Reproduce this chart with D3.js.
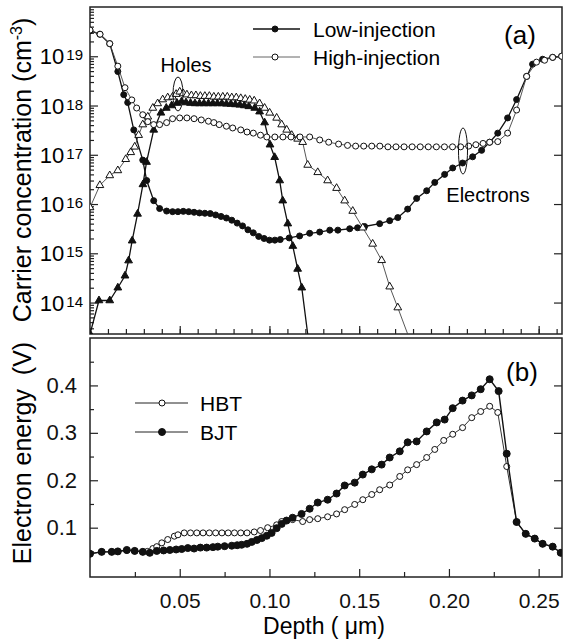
<!DOCTYPE html>
<html>
<head>
<meta charset="utf-8">
<script src="https://cdn.jsdelivr.net/npm/d3@7"></script>
<style>
  body { margin: 0; background: #fff; }
  svg { font-family: 'Liberation Sans', Arial, sans-serif; }
  .axis path.domain { display: none; }
  .axis line { stroke: #222; stroke-width: 1.2; }
</style>
</head>
<body>
<div id="chart"></div>
<script>
// depth in µm, carrier concentration in cm^-3
const electronsLow = [
  [0, 3.3e19], [0.0055, 2.8e19], [0.011, 1.8e19], [0.0155, 4.9e18], [0.0188, 1.66e18], [0.021, 1.15e18],
  [0.0244, 3.2e17], [0.0294, 7.8e16], [0.0316, 3.0e16], [0.0355, 1.17e16], [0.0388, 8.1e15], [0.0427, 7.2e15],
  [0.046, 7.0e15], [0.049, 7.0e15], [0.052, 7.1e15], [0.055, 7.0e15], [0.058, 6.8e15], [0.061, 6.6e15],
  [0.064, 6.5e15], [0.067, 6.4e15], [0.070, 6.0e15], [0.073, 5.6e15], [0.076, 5.2e15], [0.079, 4.7e15],
  [0.082, 4.1e15], [0.085, 3.6e15], [0.088, 3.0e15], [0.091, 2.6e15], [0.094, 2.2e15], [0.097, 2.0e15],
  [0.100, 1.85e15], [0.103, 1.85e15], [0.106, 1.9e15], [0.111, 2.05e15], [0.1168, 2.25e15], [0.1224, 2.55e15],
  [0.128, 2.7e15], [0.1336, 2.95e15], [0.1381, 2.95e15], [0.1447, 3.15e15], [0.1491, 3.3e15], [0.153, 3.5e15],
  [0.1614, 4.0e15], [0.167, 4.6e15], [0.1715, 5.3e15], [0.177, 7.9e15], [0.182, 1.3e16], [0.1876, 1.86e16],
  [0.1921, 2.75e16], [0.1976, 4.0e16], [0.2021, 5.4e16], [0.2076, 6.8e16], [0.2132, 9.1e16], [0.2182, 1.23e17],
  [0.2227, 1.8e17], [0.2272, 2.75e17], [0.2327, 5.6e17], [0.2377, 1.32e18], [0.2433, 3.9e18], [0.2466, 6.9e18],
  [0.2522, 8.7e18], [0.2578, 9.5e18], [0.2628, 1.0e19]
]

const electronsHigh = [
  [0, 3.4e19], [0.0056, 2.8e19], [0.011, 1.8e19], [0.0155, 6.3e18], [0.0195, 2.3e18], [0.0233, 1.3e18],
  [0.026, 8.9e17], [0.0294, 6.5e17], [0.0322, 4.7e17], [0.0355, 4.1e17], [0.0388, 4.1e17], [0.0427, 4.5e17],
  [0.046, 5.4e17], [0.050, 5.6e17], [0.054, 5.6e17], [0.058, 5.4e17], [0.062, 5.1e17], [0.066, 4.8e17],
  [0.069, 4.5e17], [0.072, 4.1e17], [0.076, 3.8e17], [0.0795, 3.5e17], [0.084, 3.2e17], [0.0875, 2.9e17],
  [0.091, 2.75e17], [0.095, 2.5e17], [0.0985, 2.3e17], [0.103, 2.3e17], [0.1075, 2.3e17], [0.112, 2.3e17],
  [0.117, 2.3e17], [0.1224, 2.3e17], [0.128, 2.0e17], [0.133, 1.8e17], [0.1385, 1.65e17], [0.1435, 1.55e17],
  [0.148, 1.5e17], [0.1525, 1.5e17], [0.157, 1.5e17], [0.1615, 1.5e17], [0.166, 1.45e17], [0.1705, 1.45e17],
  [0.175, 1.45e17], [0.1795, 1.45e17], [0.184, 1.45e17], [0.1885, 1.45e17], [0.193, 1.45e17], [0.1975, 1.45e17],
  [0.202, 1.45e17], [0.2065, 1.45e17], [0.211, 1.5e17], [0.215, 1.6e17], [0.219, 1.7e17], [0.2227, 1.8e17],
  [0.2272, 1.85e17], [0.2327, 2.75e17], [0.2377, 8.1e17], [0.2433, 3.9e18], [0.2488, 7.6e18], [0.2533, 8.3e18],
  [0.2578, 9.5e18], [0.2628, 1.0e19]
]

const holesLow = [
  [0, 2.3e13], [0.005, 1.1e14], [0.011, 1.1e14], [0.0155, 2.0e14], [0.0195, 3.5e14], [0.0215, 7.1e14],
  [0.0235, 1.8e15], [0.0265, 6.3e15], [0.0295, 2.5e16], [0.0315, 7.1e16], [0.0355, 3.2e17], [0.0395, 7.1e17],
  [0.0425, 8.9e17], [0.0455, 1.0e18], [0.0485, 1.12e18], [0.051, 1.2e18], [0.0535, 1.15e18], [0.056, 1.12e18],
  [0.0585, 1.1e18], [0.061, 1.1e18], [0.0635, 1.1e18], [0.066, 1.1e18], [0.0685, 1.1e18], [0.071, 1.1e18],
  [0.0735, 1.1e18], [0.076, 1.08e18], [0.0785, 1.07e18], [0.081, 1.05e18], [0.0835, 1.03e18], [0.086, 1.0e18],
  [0.0885, 9.6e17], [0.0918, 8.9e17], [0.0945, 7.5e17], [0.0973, 4.5e17], [0.1003, 1.6e17], [0.1029, 8.9e16],
  [0.1057, 3.0e16], [0.1074, 1.17e16], [0.1102, 4.0e15], [0.113, 1.4e15], [0.1157, 4.8e14], [0.118, 2.0e14],
  [0.1213, 2.3e13]
]

const holesHigh = [
  [0, 8.5e15], [0.0055, 2.4e16], [0.011, 3.8e16], [0.0155, 4.8e16], [0.0199, 8.1e16], [0.0227, 1.12e17],
  [0.0249, 1.45e17], [0.0271, 2.5e17], [0.0294, 4.1e17], [0.0322, 5.9e17], [0.035, 8.9e17], [0.0377, 1.1e18],
  [0.0405, 1.32e18], [0.0433, 1.45e18], [0.046, 1.5e18], [0.048, 1.7e18], [0.050, 1.9e18], [0.052, 1.75e18],
  [0.054, 1.66e18], [0.0565, 1.6e18], [0.059, 1.6e18], [0.0615, 1.55e18], [0.064, 1.55e18], [0.0665, 1.55e18],
  [0.069, 1.5e18], [0.0715, 1.5e18], [0.074, 1.5e18], [0.0765, 1.5e18], [0.079, 1.45e18], [0.0815, 1.45e18],
  [0.084, 1.4e18], [0.0865, 1.35e18], [0.089, 1.3e18], [0.0915, 1.25e18], [0.0945, 1.1e18], [0.0973, 8.9e17],
  [0.1001, 7.1e17], [0.104, 5.6e17], [0.1068, 4.1e17], [0.1096, 3.2e17], [0.1124, 2.5e17], [0.1157, 2.1e17],
  [0.1185, 1.8e17], [0.1213, 6.2e16], [0.1269, 4.4e16], [0.1324, 3.0e16], [0.1374, 2.1e16], [0.1419, 1.17e16],
  [0.1464, 7.2e15], [0.152, 3.3e15], [0.1575, 1.55e15], [0.1625, 7.2e14], [0.167, 2.1e14], [0.1715, 7.9e13],
  [0.177, 2.3e13]
]

// depth in µm, electron energy in V
const energyHBT = [
  [0, 0.045], [0.0065, 0.049], [0.0121, 0.049], [0.0155, 0.050], [0.0205, 0.052], [0.0249, 0.051],
  [0.0294, 0.049], [0.032, 0.050], [0.035, 0.056], [0.0372, 0.060], [0.040, 0.068], [0.0433, 0.075],
  [0.047, 0.082], [0.049, 0.085], [0.0525, 0.089], [0.056, 0.089], [0.0595, 0.089], [0.063, 0.089],
  [0.0665, 0.089], [0.070, 0.089], [0.0735, 0.089], [0.077, 0.089], [0.0805, 0.089], [0.084, 0.089],
  [0.0875, 0.089], [0.0915, 0.091], [0.095, 0.094], [0.099, 0.100], [0.104, 0.106], [0.1068, 0.113],
  [0.1129, 0.117], [0.1185, 0.113], [0.1224, 0.117], [0.1269, 0.119], [0.1324, 0.123], [0.1374, 0.129],
  [0.1419, 0.138], [0.1475, 0.149], [0.152, 0.159], [0.157, 0.170], [0.1614, 0.180], [0.167, 0.190],
  [0.1726, 0.208], [0.177, 0.222], [0.182, 0.233], [0.1876, 0.248], [0.1921, 0.265], [0.1971, 0.284],
  [0.2021, 0.297], [0.2076, 0.311], [0.2127, 0.332], [0.2177, 0.345], [0.2227, 0.356], [0.2272, 0.343],
  [0.2322, 0.229], [0.2377, 0.112], [0.2428, 0.087], [0.2478, 0.077], [0.2522, 0.066], [0.2578, 0.060],
  [0.2623, 0.047]
]

const energyBJT = [
  [0, 0.045], [0.0065, 0.049], [0.0121, 0.049], [0.0155, 0.050], [0.0205, 0.053], [0.0249, 0.051],
  [0.0294, 0.049], [0.0333, 0.047], [0.0372, 0.051], [0.041, 0.052], [0.0445, 0.053], [0.048, 0.054],
  [0.0511, 0.055], [0.0545, 0.057], [0.058, 0.056], [0.0615, 0.058], [0.065, 0.058], [0.0685, 0.059],
  [0.0712, 0.060], [0.075, 0.061], [0.079, 0.062], [0.082, 0.063], [0.0845, 0.064], [0.0875, 0.066],
  [0.0901, 0.070], [0.093, 0.074], [0.0957, 0.078], [0.0985, 0.083], [0.1012, 0.089], [0.104, 0.099],
  [0.1068, 0.108], [0.1095, 0.115], [0.1129, 0.121], [0.1179, 0.129], [0.1224, 0.140], [0.1269, 0.153],
  [0.1324, 0.159], [0.1374, 0.172], [0.1419, 0.189], [0.1475, 0.195], [0.152, 0.212], [0.157, 0.223],
  [0.1625, 0.233], [0.167, 0.248], [0.1726, 0.261], [0.177, 0.280], [0.182, 0.282], [0.1876, 0.303],
  [0.1932, 0.322], [0.1976, 0.328], [0.2021, 0.352], [0.2076, 0.368], [0.2127, 0.379], [0.2177, 0.392],
  [0.2227, 0.413], [0.2277, 0.388], [0.2322, 0.256], [0.2377, 0.112], [0.2428, 0.087], [0.2478, 0.077],
  [0.2522, 0.066], [0.2578, 0.060], [0.2623, 0.047]
]

const depthTicks = [0.05, 0.10, 0.15, 0.20, 0.25]
const energyTicks = [0.1, 0.2, 0.3, 0.4]
const concTicks = [1e14, 1e15, 1e16, 1e17, 1e18, 1e19]
const concExponents = ['14', '15', '16', '17', '18', '19']

const width = 564
const height = 643
const left = 90
const right = 562
const panelA = { top: 7, bottom: 334 }
const panelB = { top: 338, bottom: 577 }
const font = "'Liberation Sans', Arial, sans-serif"

const svg = d3.select('#chart').append('svg')
  .attr('width', width)
  .attr('height', height)

const x = d3.scaleLinear().domain([0, 0.263]).range([left, right])
const yConc = d3.scaleLog().domain([2.3e13, 1e20]).range([panelA.bottom, panelA.top])
const yEnergy = d3.scaleLinear().domain([-0.004, 0.5]).range([panelB.bottom, panelB.top])

const defs = svg.append('defs')
defs.append('clipPath').attr('id', 'clipA').append('rect')
  .attr('x', left).attr('y', panelA.top).attr('width', right - left).attr('height', panelA.bottom - panelA.top)
defs.append('clipPath').attr('id', 'clipB').append('rect')
  .attr('x', left).attr('y', panelB.top).attr('width', right - left).attr('height', panelB.bottom - panelB.top)

// ---- panel (a) axes ----
const minorConc = []
for (let e = 13; e < 20; e++) {
  for (let k = 2; k <= 9; k++) {
    const v = k * Math.pow(10, e)
    if (v > 2.3e13 && v < 1e20) minorConc.push(v)
  }
}

svg.append('g').attr('class', 'axis')
  .attr('transform', `translate(${left},0)`)
  .call(d3.axisLeft(yConc).tickValues(concTicks).tickSize(-8).tickFormat(''))
svg.append('g').attr('class', 'axis')
  .attr('transform', `translate(${left},0)`)
  .call(d3.axisLeft(yConc).tickValues(minorConc).tickSize(-4).tickFormat(''))
svg.append('g').attr('class', 'axis')
  .attr('transform', `translate(${right},0)`)
  .call(d3.axisRight(yConc).tickValues(concTicks).tickSize(-8).tickFormat(''))
svg.append('g').attr('class', 'axis')
  .attr('transform', `translate(0,${panelA.bottom})`)
  .call(d3.axisBottom(x).tickValues(d3.range(0.01, 0.262, 0.01)).tickSize(-5).tickFormat(''))
svg.append('g').attr('class', 'axis')
  .attr('transform', `translate(0,${panelA.bottom})`)
  .call(d3.axisBottom(x).tickValues(depthTicks).tickSize(-8).tickFormat(''))

const concLabels = svg.append('g')
concTicks.forEach((v, i) => {
  const t = concLabels.append('text')
    .attr('x', 83)
    .attr('y', yConc(v) + 8)
    .attr('text-anchor', 'end')
    .attr('font-size', 22)
  t.append('tspan').text('10')
  t.append('tspan').attr('font-size', 15).attr('dx', 2).attr('dy', -4).text(concExponents[i])
})

svg.append('rect')
  .attr('x', left).attr('y', panelA.top)
  .attr('width', right - left).attr('height', panelA.bottom - panelA.top)
  .attr('fill', 'none').attr('stroke', '#222').attr('stroke-width', 1.5)

const yTitleA = svg.append('text')
  .attr('transform', `translate(31,170) rotate(-90)`)
  .attr('text-anchor', 'middle')
  .attr('font-size', 25)
yTitleA.append('tspan').text('Carrier concentration (cm')
yTitleA.append('tspan').attr('font-size', 16).attr('dy', -9).text('-3')
yTitleA.append('tspan').attr('dy', 9).text(')')

// ---- panel (a) curves ----
const lineA = d3.line().x(d => x(d[0])).y(d => yConc(d[1]))
const plotA = svg.append('g').attr('clip-path', 'url(#clipA)')
const triangle = d3.symbol().type(d3.symbolTriangle).size(26)
const floorA = yConc.domain()[0]

function drawSeriesA (data, opts) {
  plotA.append('path')
    .datum(data)
    .attr('d', lineA)
    .attr('fill', 'none')
    .attr('stroke', opts.stroke)
    .attr('stroke-width', opts.lw)
  const pts = data.filter(d => d[1] > floorA || d[0] === 0)
  if (opts.shape === 'circle') {
    plotA.append('g').selectAll('circle')
      .data(pts).enter().append('circle')
      .attr('cx', d => x(d[0]))
      .attr('cy', d => yConc(d[1]))
      .attr('r', 3)
      .attr('fill', opts.filled ? '#111' : '#fff')
      .attr('stroke', '#111')
      .attr('stroke-width', 1)
  } else {
    plotA.append('g').selectAll('path')
      .data(pts).enter().append('path')
      .attr('d', triangle)
      .attr('transform', d => `translate(${x(d[0])},${yConc(d[1])})`)
      .attr('fill', opts.filled ? '#111' : '#fff')
      .attr('stroke', '#111')
      .attr('stroke-width', 1)
  }
}

drawSeriesA(electronsLow, { shape: 'circle', filled: true, stroke: '#111', lw: 1.3 })
drawSeriesA(holesLow, { shape: 'triangle', filled: true, stroke: '#111', lw: 1.3 })
drawSeriesA(holesHigh, { shape: 'triangle', filled: false, stroke: '#444', lw: 0.9 })
drawSeriesA(electronsHigh, { shape: 'circle', filled: false, stroke: '#444', lw: 0.9 })

// annotations (a)
svg.append('text').attr('x', 186).attr('y', 72).attr('text-anchor', 'middle')
  .attr('font-size', 20).text('Holes')
svg.append('ellipse').attr('cx', 178).attr('cy', 94).attr('rx', 5).attr('ry', 17)
  .attr('fill', 'none').attr('stroke', '#111').attr('stroke-width', 1)
svg.append('text').attr('x', 488).attr('y', 202).attr('text-anchor', 'middle')
  .attr('font-size', 20).text('Electrons')
svg.append('ellipse').attr('cx', 463).attr('cy', 151).attr('rx', 4.5).attr('ry', 23)
  .attr('fill', 'none').attr('stroke', '#111').attr('stroke-width', 1)
svg.append('text').attr('x', 520).attr('y', 44).attr('text-anchor', 'middle')
  .attr('font-size', 26).text('(a)')

// legend (a)
const legendA = [
  { label: 'Low-injection', y: 29, filled: true, stroke: '#111', lw: 1.3 },
  { label: 'High-injection', y: 57, filled: false, stroke: '#555', lw: 0.9 }
]
legendA.forEach(l => {
  svg.append('line').attr('x1', 253).attr('x2', 300).attr('y1', l.y).attr('y2', l.y)
    .attr('stroke', l.stroke).attr('stroke-width', l.lw)
  svg.append('circle').attr('cx', 275).attr('cy', l.y).attr('r', 3)
    .attr('fill', l.filled ? '#111' : '#fff').attr('stroke', '#111')
  svg.append('text').attr('x', 313).attr('y', l.y + 8).attr('font-size', 21).text(l.label)
})

// ---- panel (b) axes ----
svg.append('g').attr('class', 'axis')
  .attr('transform', `translate(${left},0)`)
  .call(d3.axisLeft(yEnergy).tickValues(energyTicks).tickSize(-8).tickPadding(13)
    .tickFormat(d3.format('.1f')))
  .call(g => g.selectAll('text').attr('font-size', 22).attr('fill', '#111').attr('font-family', font))
svg.append('g').attr('class', 'axis')
  .attr('transform', `translate(${left},0)`)
  .call(d3.axisLeft(yEnergy).tickValues([0.05, 0.15, 0.25, 0.35, 0.45]).tickSize(-4).tickFormat(''))
svg.append('g').attr('class', 'axis')
  .attr('transform', `translate(${right},0)`)
  .call(d3.axisRight(yEnergy).tickValues(energyTicks).tickSize(-8).tickFormat(''))
svg.append('g').attr('class', 'axis')
  .attr('transform', `translate(0,${panelB.bottom})`)
  .call(d3.axisBottom(x).tickValues(depthTicks).tickSize(-8).tickPadding(16)
    .tickFormat(d3.format('.2f')))
  .call(g => g.selectAll('text').attr('font-size', 21).attr('fill', '#111').attr('font-family', font))
svg.append('g').attr('class', 'axis')
  .attr('transform', `translate(0,${panelB.bottom})`)
  .call(d3.axisBottom(x).tickValues([0.025, 0.075, 0.125, 0.175, 0.225]).tickSize(-5).tickFormat(''))

svg.append('rect')
  .attr('x', left).attr('y', panelB.top)
  .attr('width', right - left).attr('height', panelB.bottom - panelB.top)
  .attr('fill', 'none').attr('stroke', '#222').attr('stroke-width', 1.5)

svg.append('text')
  .attr('transform', `translate(31,453) rotate(-90)`)
  .attr('text-anchor', 'middle')
  .attr('font-size', 25)
  .style('white-space', 'pre')
  .text('Electron energy  (V)')

svg.append('text')
  .attr('x', 324).attr('y', 634)
  .attr('text-anchor', 'middle')
  .attr('font-size', 23)
  .style('white-space', 'pre')
  .text('Depth ( μm)')

// ---- panel (b) curves ----
const lineB = d3.line().x(d => x(d[0])).y(d => yEnergy(d[1]))
const plotB = svg.append('g').attr('clip-path', 'url(#clipB)')

function drawSeriesB (data, filled) {
  plotB.append('path')
    .datum(data)
    .attr('d', lineB)
    .attr('fill', 'none')
    .attr('stroke', filled ? '#111' : '#333')
    .attr('stroke-width', filled ? 1.4 : 1)
  plotB.append('g').selectAll('circle')
    .data(data).enter().append('circle')
    .attr('cx', d => x(d[0]))
    .attr('cy', d => yEnergy(d[1]))
    .attr('r', filled ? 3.5 : 3)
    .attr('fill', filled ? '#111' : '#fff')
    .attr('stroke', '#111')
    .attr('stroke-width', 1)
}

drawSeriesB(energyHBT, false)
drawSeriesB(energyBJT, true)

svg.append('text').attr('x', 522).attr('y', 381).attr('text-anchor', 'middle')
  .attr('font-size', 26).text('(b)')

// legend (b)
const legendB = [
  { label: 'HBT', y: 403, filled: false },
  { label: 'BJT', y: 432, filled: true }
]
legendB.forEach(l => {
  svg.append('line').attr('x1', 135).attr('x2', 188).attr('y1', l.y).attr('y2', l.y)
    .attr('stroke', '#222').attr('stroke-width', 1)
  svg.append('circle').attr('cx', 162).attr('cy', l.y).attr('r', l.filled ? 3.5 : 3)
    .attr('fill', l.filled ? '#111' : '#fff').attr('stroke', '#111')
  svg.append('text').attr('x', 200).attr('y', l.y + 8).attr('font-size', 21).text(l.label)
})
</script>
</body>
</html>
